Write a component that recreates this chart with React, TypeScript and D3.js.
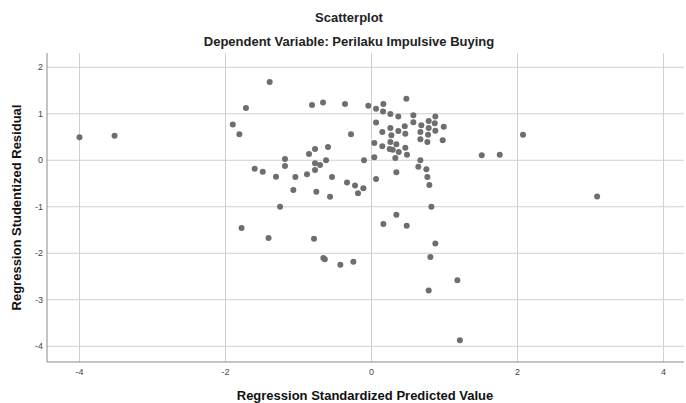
import React from "react";
import * as d3 from "d3";

const predicted: number[] = [
  -4.0, -3.52, -1.9, -1.81, -1.395, -1.72, -0.815, -0.664, -0.363, -0.044,
  0.062, 0.162, 0.158, 0.258, 0.367, 0.477, 0.573, 0.573, 0.682, 0.783,
  0.874, 0.866, 0.989, 0.783, 0.874, 0.975, 0.669, 0.774, 0.669, 0.765,
  0.455, 0.367, 0.258, 0.148, 0.062, 0.463, 0.272, 0.258, 0.34, 0.148,
  0.038, 0.249, 0.29, 0.373, 0.463, 0.486, 0.326, 0.038, -0.103, -0.281,
  -0.596, -0.774, -0.856, -0.623, -0.774, -0.705, -0.774, -0.884, -0.541, -1.185,
  -1.185, -1.6, -1.49, -1.308, -1.043, -1.071, -0.756, -0.568, -0.336, -0.226,
  -0.112, -0.185, 0.062, 0.34, 0.669, 0.641, 0.751, 0.765, 0.792, -1.253,
  0.82, 1.51, 1.756, 2.075, 3.09, -1.78, -1.41, -0.788, -0.66, -0.64,
  -0.427, -0.249, 0.162, 0.34, 0.482, 0.874, 0.806, 0.783, 1.176, 1.21,
];

const residual: number[] = [
  0.495, 0.53, 0.77, 0.56, 1.684, 1.125, 1.19, 1.24, 1.21, 1.17,
  1.11, 1.21, 1.05, 0.996, 0.94, 1.325, 0.967, 0.817, 0.753, 0.845,
  0.94, 0.796, 0.723, 0.695, 0.637, 0.43, 0.609, 0.551, 0.452, 0.394,
  0.731, 0.63, 0.695, 0.609, 0.81, 0.572, 0.538, 0.394, 0.344, 0.301,
  0.372, 0.243, 0.228, 0.178, 0.271, 0.12, 0.049, 0.064, 0.0, 0.56,
  0.286, 0.243, 0.135, 0.0, -0.065, -0.1, -0.21, -0.3, -0.36, 0.028,
  -0.123, -0.18, -0.245, -0.352, -0.36, -0.64, -0.675, -0.782, -0.48, -0.545,
  -0.603, -0.71, -0.4, -0.26, 0.0, -0.137, -0.194, -0.36, -0.53, -0.997,
  -1.0, 0.107, 0.12, 0.55, -0.78, -1.456, -1.67, -1.69, -2.1, -2.13,
  -2.245, -2.18, -1.37, -1.17, -1.406, -1.79, -2.08, -2.8, -2.58, -3.87,
];

const xTicks: number[] = [-4, -2, 0, 2, 4];
const yTicks: number[] = [2, 1, 0, -1, -2, -3, -4];

const title = "Scatterplot";
const subtitle = "Dependent Variable: Perilaku Impulsive Buying";
const xTitle = "Regression Standardized Predicted Value";
const yTitle = "Regression Studentized Residual";

const W = 686;
const H = 403;
const left = 47;
const right = 684;
const top = 53;
const bottom = 362;

export default function App() {
  const x = d3.scaleLinear().domain([-4.445, 4.28]).range([left, right]);
  const y = d3.scaleLinear().domain([-4.338, 2.307]).range([bottom, top]);
  const pts = predicted.map((p, i) => ({ p, r: residual[i] }));
  const font = "'Liberation Sans', Arial, sans-serif";
  return (
    <svg
      width={W}
      height={H}
      style={{ position: "absolute", left: 0, top: 0, background: "#fff" }}
      fontFamily={font}
    >
      <rect x={0} y={0} width={W} height={H} fill="#fff" />
      <text x={349} y={22} textAnchor="middle" fontSize={13} fontWeight="bold" fill="#222">
        {title}
      </text>
      <text x={349} y={46} textAnchor="middle" fontSize={13} fontWeight="bold" fill="#222">
        {subtitle}
      </text>
      {xTicks.map((t) => (
        <line key={"gx" + t} x1={x(t)} x2={x(t)} y1={top} y2={bottom} stroke="#d0d0d0" strokeWidth={1} />
      ))}
      {yTicks.map((t) => (
        <line key={"gy" + t} x1={left} x2={right} y1={y(t)} y2={y(t)} stroke="#d0d0d0" strokeWidth={1} />
      ))}
      <line x1={left} x2={left} y1={top} y2={bottom} stroke="#8a8a8a" strokeWidth={1} />
      <line x1={left} x2={right} y1={bottom} y2={bottom} stroke="#8a8a8a" strokeWidth={1} />
      {xTicks.map((t) => (
        <text key={"tx" + t} x={x(t)} y={375} textAnchor="middle" fontSize={9} fill="#444">
          {t}
        </text>
      ))}
      {yTicks.map((t) => (
        <text key={"ty" + t} x={43} y={y(t) + 3} textAnchor="end" fontSize={9} fill="#444">
          {t}
        </text>
      ))}
      {pts.map((d, i) => (
        <circle key={i} cx={x(d.p)} cy={y(d.r)} r={3} fill="#6e6e6e" />
      ))}
      <text x={365} y={400} textAnchor="middle" fontSize={13} fontWeight="bold" fill="#111">
        {xTitle}
      </text>
      <text
        transform={`translate(20.5, ${(top + bottom) / 2}) rotate(-90)`}
        textAnchor="middle"
        fontSize={13}
        fontWeight="bold"
        fill="#111"
      >
        {yTitle}
      </text>
    </svg>
  );
}
